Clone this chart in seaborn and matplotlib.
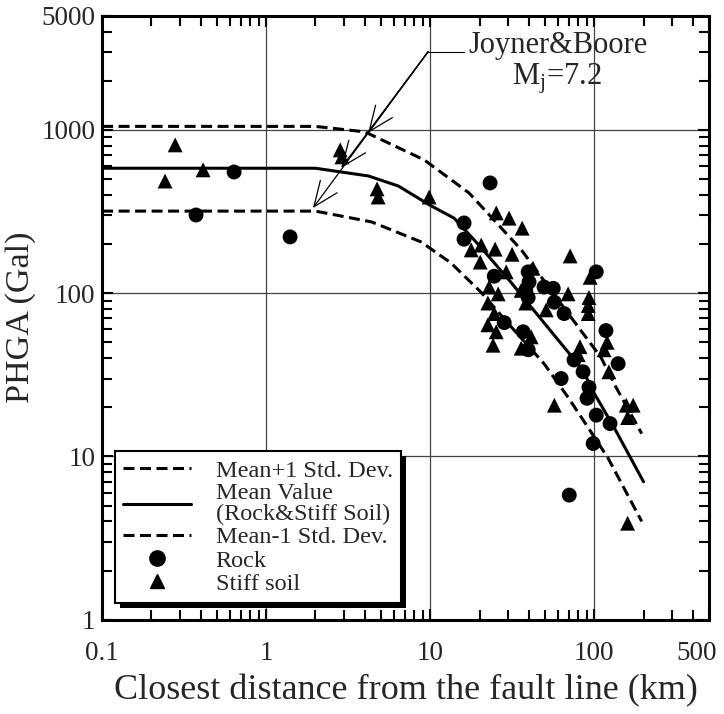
import numpy as np
import pandas as pd
import seaborn as sns
import matplotlib
matplotlib.use("Agg")
import matplotlib.pyplot as plt
from matplotlib.lines import Line2D
from matplotlib.patches import Rectangle
from matplotlib.transforms import ScaledTranslation
from matplotlib.ticker import LogLocator, FixedLocator, FixedFormatter, NullFormatter

# ---------------- data ----------------
rock_x = [0.374, 0.638, 1.40, 16.1, 16.1, 23.2, 24.6, 28.3, 36.9, 38.3, 39.6, 39.6,
          40.1, 39.6, 49.5, 56.3, 57.2, 65.6, 62.9, 75.4, 85.6, 93.0, 90.5, 103.0,
          103.0, 125.0, 98.6, 118.0, 140.0, 70.5]
rock_y = [301, 552, 221, 269, 214, 473, 127, 66, 58, 104, 135, 94,
          117, 45, 109, 107, 88, 75, 30, 39, 33, 26.5, 22.7, 17.9,
          135, 15.9, 12.0, 59, 37, 5.8]

soil_x = [0.279, 0.242, 0.413, 2.83, 2.90, 4.75, 4.82, 9.86, 25.3, 30.3, 36.4, 17.8,
          20.5, 24.9, 31.6, 20.2, 71.4, 29.1, 42.4, 35.9, 38.3, 69.4, 51.0, 94.6,
          93.0, 92.0, 92.0, 22.9, 26.0, 22.5, 24.6, 22.5, 25.3, 24.2, 41.3, 35.9,
          82.0, 80.0, 57.2, 120.0, 115.0, 123.0, 157.0, 173.0, 160.0, 160.0]
soil_y = [809, 486, 569, 754, 683, 435, 388, 388, 310, 288, 250, 184,
          197, 186, 173, 155, 169, 135, 142, 104, 87, 99, 79, 125,
          94, 84, 75, 109, 99, 87, 75, 64, 58, 48, 54, 46,
          47, 42, 20.6, 50, 45, 33, 20.6, 20.6, 17.3, 3.9]

mean_x = [0.1, 2.0, 4.2, 6.4, 10, 14, 20, 31, 50, 63, 85, 100, 132, 200]
mean_y = [582, 582, 522, 453, 345, 288, 195, 117, 65, 49, 34, 24.4, 15.1, 7.0]

plus_x = [0.1, 2.0, 4.0, 9.2, 17.3, 36, 55, 80, 110, 136, 195]
plus_y = [1050, 1050, 972, 655, 410, 184, 103, 62, 40.5, 26.5, 13.8]

minus_x = [0.1, 2.0, 4.4, 8.8, 13.4, 20.5, 30, 49.5, 69.4, 92, 122, 195]
minus_y = [318, 318, 273, 206, 153, 101, 65, 37, 23, 15, 9.7, 4.0]

x_ticks = [0.1, 1, 10, 100, 500]
x_ticklabels = ["0.1", "1", "10", "100", "500"]
y_ticks = [1, 10, 100, 1000, 5000]
y_ticklabels = ["1", "10", "100", "1000", "5000"]

legend_labels = ["Mean+1 Std. Dev.", "Mean Value\n(Rock&Stiff Soil)",
                 "Mean-1 Std. Dev.", "Rock", "Stiff soil"]

annot_text = "Joyner&Boore"
annot_text2 = "M$_\\mathregular{j}$=7.2"
annot_origin = (9.72, 3010)
annot_leader_end = 16.1
annot_targets = [(4.19, 959), (2.87, 585), (1.93, 332)]

# ---------------- frames ----------------
pts = pd.DataFrame({
    "x": rock_x + soil_x,
    "y": rock_y + soil_y,
    "kind": ["Rock"] * len(rock_x) + ["Stiff soil"] * len(soil_x),
})
curves = pd.concat([
    pd.DataFrame({"x": plus_x, "y": plus_y, "curve": "plus"}),
    pd.DataFrame({"x": mean_x, "y": mean_y, "curve": "mean"}),
    pd.DataFrame({"x": minus_x, "y": minus_y, "curve": "minus"}),
])

sns.set_style("ticks")
plt.rcParams["font.family"] = ["Liberation Serif", "DejaVu Serif"]
plt.rcParams["mathtext.fontset"] = "custom"
plt.rcParams["mathtext.rm"] = "Liberation Serif"
plt.rcParams["mathtext.it"] = "Liberation Serif"

fig = plt.figure(figsize=(7.24, 7.14), dpi=100)
ax = fig.add_axes([0.141, 0.132, 0.838, 0.846])
ax.set_xscale("log")
ax.set_yscale("log")

dash = (0, (3.6, 1.8))
lw = 2.2
sns.lineplot(data=curves[curves.curve == "plus"], x="x", y="y", ax=ax,
             color="black", lw=lw, linestyle=dash, legend=False, sort=False,
             estimator=None)
sns.lineplot(data=curves[curves.curve == "mean"], x="x", y="y", ax=ax,
             color="black", lw=lw, legend=False, sort=False, estimator=None)
sns.lineplot(data=curves[curves.curve == "minus"], x="x", y="y", ax=ax,
             color="black", lw=lw, linestyle=dash, legend=False, sort=False,
             estimator=None)

sns.scatterplot(data=pts, x="x", y="y", style="kind",
                markers={"Rock": "o", "Stiff soil": "^"},
                color="black", s=115, edgecolor="none", ax=ax, legend=False,
                zorder=3)

ax.set_xlim(0.1, 500)
ax.set_ylim(1, 5000)

ax.xaxis.set_major_locator(FixedLocator(x_ticks))
ax.xaxis.set_major_formatter(FixedFormatter(x_ticklabels))
ax.yaxis.set_major_locator(FixedLocator(y_ticks))
ax.yaxis.set_major_formatter(FixedFormatter(y_ticklabels))
ax.xaxis.set_minor_locator(LogLocator(base=10, subs=np.arange(2, 10), numticks=20))
ax.yaxis.set_minor_locator(LogLocator(base=10, subs=np.arange(2, 10), numticks=20))
ax.xaxis.set_minor_formatter(NullFormatter())
ax.yaxis.set_minor_formatter(NullFormatter())

ax.tick_params(which="both", direction="in", top=True, right=True,
               width=1.5, color="black")
ax.tick_params(which="major", length=8, labelsize=19.5)
ax.tick_params(which="minor", length=7)
ax.tick_params(axis="x", which="major", pad=15)
ax.tick_params(axis="y", which="major", pad=5)
for s in ax.spines.values():
    s.set_linewidth(2.2)
    s.set_color("black")

for v in [1, 10, 100]:
    ax.axvline(v, color="#444444", lw=0.9, zorder=0.5)
for v in [10, 100, 1000]:
    ax.axhline(v, color="#444444", lw=0.9, zorder=0.5)

ax.set_xlabel("Closest distance from the fault line (km)", fontsize=26, labelpad=6)
ax.set_ylabel("PHGA (Gal)", fontsize=24.5, labelpad=4)

# shift the last x tick label inward so it stays inside the figure
for lab in ax.get_xticklabels():
    if lab.get_text() == "500":
        lab.set_transform(lab.get_transform() +
                          ScaledTranslation(-9 / 72, 0, fig.dpi_scale_trans))

# annotation
for tx, ty in annot_targets:
    ax.annotate("", xy=(tx, ty), xytext=annot_origin,
                arrowprops=dict(arrowstyle="->,head_length=0.6,head_width=0.25",
                                lw=0.9, color="black",
                                mutation_scale=30, shrinkA=0, shrinkB=0))
ax.plot([annot_origin[0], annot_leader_end], [annot_origin[1], annot_origin[1]],
        color="black", lw=0.8)
ax.text(17.1, 3300, annot_text, fontsize=22, va="center", ha="left")
ax.text(59, 2050, annot_text2, fontsize=22, va="center", ha="center")

# legend
handles = [
    Line2D([], [], color="black", lw=lw, linestyle=dash),
    Line2D([], [], color="black", lw=lw),
    Line2D([], [], color="black", lw=lw, linestyle=dash),
    Line2D([], [], color="black", marker="o", linestyle="none", markersize=11),
    Line2D([], [], color="black", marker="^", linestyle="none", markersize=9.5),
]
leg = ax.legend(handles, legend_labels, loc="lower left",
                bbox_to_anchor=(0.021, 0.027), fontsize=17.5, frameon=True,
                fancybox=False, handlelength=2.8, handletextpad=1.0,
                borderpad=0.35, labelspacing=0.05, borderaxespad=0)
leg.get_frame().set_edgecolor("black")
leg.get_frame().set_linewidth(1.5)
leg.get_frame().set_alpha(1)
leg.get_texts()[1].set_linespacing(1.0)
leg.set_zorder(6)

# heavy drop shadow behind the legend box (pixel offsets)
fig.canvas.draw()
bb = leg.get_frame().get_window_extent()
off = 5
shadow = Rectangle((bb.x0 + off, bb.y0 - off), bb.width, bb.height,
                   transform=None, facecolor="black", edgecolor="none",
                   zorder=5.5)
ax.add_artist(shadow)

fig.savefig("out.png", dpi=100)
